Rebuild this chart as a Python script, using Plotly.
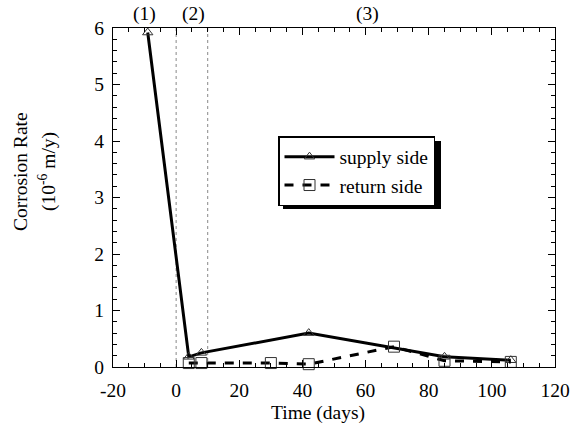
import plotly.graph_objects as go

supply_x = [-9, 4, 8, 42, 85, 106]
supply_y = [5.92, 0.18, 0.25, 0.6, 0.18, 0.12]
return_x = [4, 8, 30, 42, 69, 85, 106]
return_y = [0.07, 0.07, 0.07, 0.05, 0.36, 0.11, 0.09]
phase_labels = ["(1)", "(2)", "(3)"]
phase_x = [-10, 5.5, 60.5]
phase_lines = [0, 10]
x_ticks = [-20, 0, 20, 40, 60, 80, 100, 120]
x_ticktext = ["-20", "0", "20", "40", "60", "80", "100", "120"]

FONT = "Liberation Serif"
FS = 19.5
L, R, T, B = 113, 27, 28, 67
PW, PH = 582 - L - R, 434 - T - B


def px(xp):
    return (xp - L) / PW


def py(yp):
    return (434 - B - yp) / PH


fig = go.Figure()
fig.add_trace(go.Scatter(
    x=supply_x, y=supply_y, name="supply side", mode="lines+markers",
    line=dict(color="black", width=3),
    marker=dict(symbol="triangle-up-open", size=9, color="#333", line=dict(width=1)),
    cliponaxis=False,
))
fig.add_trace(go.Scatter(
    x=return_x, y=return_y, name="return side", mode="lines+markers",
    line=dict(color="black", width=3, dash="dash"),
    marker=dict(symbol="square-open", size=11, color="#333", line=dict(width=1)),
    cliponaxis=False,
))

for xv in phase_lines:
    fig.add_shape(type="line", x0=xv, x1=xv, y0=0, y1=6, xref="x", yref="y",
                  line=dict(color="#888", width=1, dash="dot"), layer="below")

for t, xv in zip(phase_labels, phase_x):
    fig.add_annotation(text=t, x=xv, y=1, xref="x", yref="paper", yanchor="bottom",
                       yshift=1, showarrow=False, font=dict(family=FONT, size=FS, color="black"))

# y title (two lines)
fig.add_annotation(text="Corrosion Rate", x=px(20), y=py(172), xref="paper", yref="paper",
                   xanchor="center", yanchor="middle",
                   showarrow=False, textangle=-90, font=dict(family=FONT, size=FS, color="#000000"))
fig.add_annotation(text="(10<sup>-6</sup> m/y)", x=px(47), y=py(172), xref="paper", yref="paper",
                   xanchor="center", yanchor="middle",
                   showarrow=False, textangle=-90, font=dict(family=FONT, size=FS, color="#000000"))
# x title
fig.add_annotation(text="Time (days)", x=px(318), y=py(413), xref="paper", yref="paper",
                   xanchor="center", yanchor="middle", showarrow=False,
                   font=dict(family=FONT, size=FS, color="black"))

# legend shadow
fig.add_shape(type="rect", xref="paper", yref="paper",
              x0=px(283), x1=px(441), y0=py(209), y1=py(141),
              fillcolor="black", line=dict(width=0), layer="above")

axis_common = dict(
    showline=True, linecolor="black", linewidth=1, mirror="allticks",
    ticks="inside", ticklen=7, tickcolor="black", tickwidth=1,
    showgrid=False, zeroline=False,
    tickfont=dict(family=FONT, size=FS, color="black"),
)

fig.update_xaxes(range=[-20, 120], tickvals=x_ticks, ticktext=x_ticktext,
                 minor=dict(dtick=5, tick0=0, ticks="inside", ticklen=4, tickcolor="black", showgrid=False),
                 ticklabelstandoff=6,
                 **axis_common)
fig.update_yaxes(range=[0, 6], dtick=1,
                 minor=dict(dtick=0.2, ticks="inside", ticklen=4, tickcolor="black", showgrid=False),
                 ticklabelstandoff=4,
                 **axis_common)

fig.update_layout(
    width=582, height=434,
    margin=dict(l=L, r=R, t=T, b=B),
    paper_bgcolor="white", plot_bgcolor="white",
    font=dict(family=FONT, size=FS, color="black"),
    showlegend=True,
    legend=dict(x=px(278), y=py(136), xanchor="left", yanchor="top",
                bgcolor="white", bordercolor="black", borderwidth=1.5,
                font=dict(family=FONT, size=FS, color="black"),
                tracegroupgap=0, itemwidth=50),
)

fig.write_html("out.html", config={"displayModeBar": False})
